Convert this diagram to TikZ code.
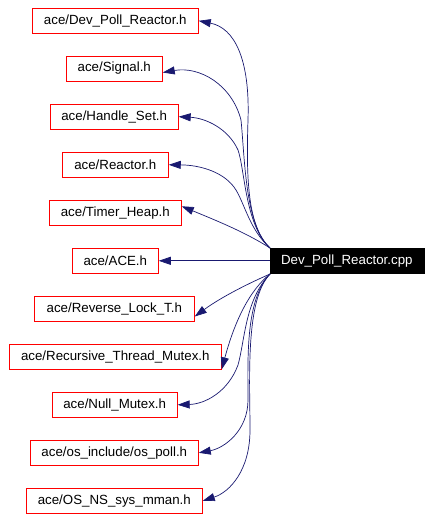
\documentclass[tikz,border=0pt]{standalone}
\usepackage{fontspec}
\setmainfont{Liberation Sans}
\usetikzlibrary{arrows.meta}
\definecolor{edgeblue}{HTML}{191970}
\begin{document}
\begin{tikzpicture}[x=1pt,y=-1pt,
  hdr/.style={draw=red,line width=0.9pt,fill=white,minimum height=25pt,inner sep=0pt,font=\fontsize{13.3}{15}\selectfont},
  cppbox/.style={draw=black,fill=black,text=white,minimum height=25pt,inner sep=0pt,font=\fontsize{13.3}{15}\selectfont},
  dep/.style={draw=edgeblue,line width=0.7pt,-{Triangle[length=12pt,width=8pt]}}]
\useasboundingbox (0,0) rectangle (431,519);
\node[hdr,minimum width=166pt] (n1) at (115.3,20.8) {ace/Dev\_Poll\_Reactor.h};
\node[hdr,minimum width=96pt] (n2) at (114.3,68.5) {ace/Signal.h};
\node[hdr,minimum width=128pt] (n3) at (114.2,116.7) {ace/Handle\_Set.h};
\node[hdr,minimum width=106pt] (n4) at (115.3,164.8) {ace/Reactor.h};
\node[hdr,minimum width=132pt] (n5) at (115.3,212.8) {ace/Timer\_Heap.h};
\node[hdr,minimum width=86pt] (n6) at (115.3,260.8) {ace/ACE.h};
\node[hdr,minimum width=160pt] (n7) at (114.3,308.5) {ace/Reverse\_Lock\_T.h};
\node[hdr,minimum width=212pt] (n8) at (115.3,356.8) {ace/Recursive\_Thread\_Mutex.h};
\node[hdr,minimum width=125pt] (n9) at (114.7,404.8) {ace/Null\_Mutex.h};
\node[hdr,minimum width=168pt] (n10) at (114.3,452.8) {ace/os\_include/os\_poll.h};
\node[hdr,minimum width=176pt] (n11) at (114.3,500.8) {ace/OS\_NS\_sys\_mman.h};
\node[cppbox,minimum width=154pt] (cpp) at (346.8,260.8) {Dev\_Poll\_Reactor.cpp};
\coordinate (su) at (270,248);
\coordinate (sd) at (270,274);
\draw[dep] (su) .. controls (248,228) and (246,180) .. (248,120) .. controls (250,60) and (235,28) .. (n1.east);
\draw[dep] (su) .. controls (245,225) and (245,160) .. (241,120) .. controls (232,85) and (200,66) .. ([yshift=-4pt]n2.east);
\draw[dep] (su) .. controls (245,225) and (245,170) .. (238,150) .. controls (228,128) and (205,118) .. (n3.east);
\draw[dep] (su) .. controls (250,230) and (245,205) .. (236,190) .. controls (225,172) and (200,165) .. (n4.east);
\draw[dep] (su) .. controls (245,232) and (215,220) .. ([yshift=6.5pt]n5.east);
\draw[dep] (cpp.west) -- (n6.east);
\draw[dep] (sd) .. controls (245,285) and (220,298) .. ([yshift=-8pt]n7.east);
\draw[dep] (sd) .. controls (250,290) and (235,320) .. ([yshift=-12.5pt]n8.east);
\draw[dep] (sd) .. controls (245,300) and (245,340) .. (238,365) .. controls (228,392) and (205,404) .. (n9.east);
\draw[dep] (sd) .. controls (245,300) and (248,360) .. (248,400) .. controls (248,430) and (225,448) .. (n10.east);
\draw[dep] (sd) .. controls (245,300) and (250,380) .. (250,430) .. controls (250,470) and (230,492) .. (n11.east);
\end{tikzpicture}
\end{document}
